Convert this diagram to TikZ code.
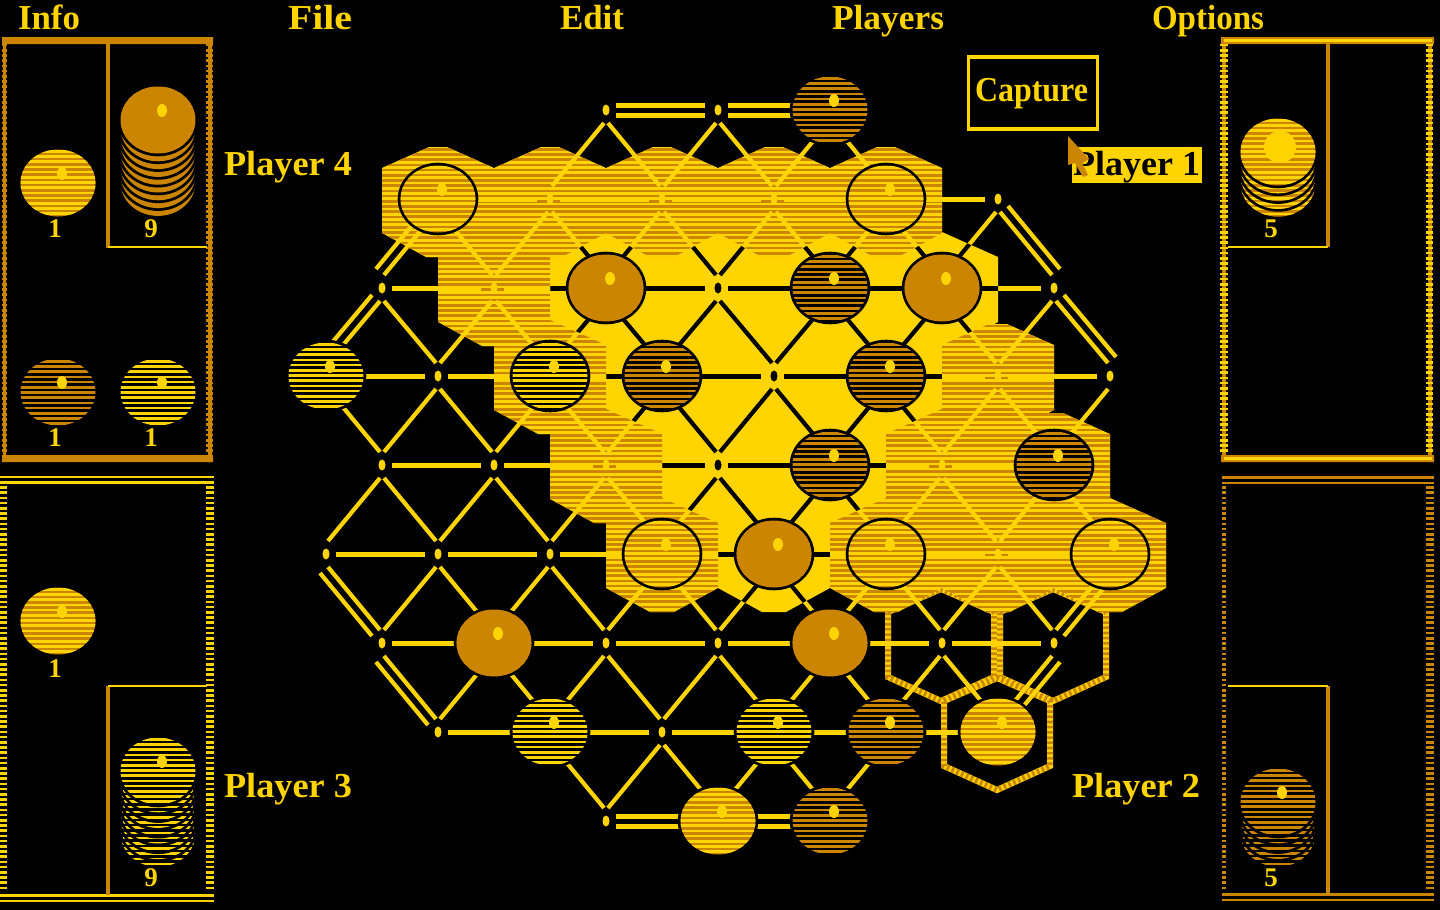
\documentclass[tikz,border=0pt]{standalone}
\usepackage{fontspec}
\usepackage{graphicx}
\newfontfamily\dosfont{Liberation Serif}
\definecolor{dosy}{HTML}{FFD400}
\definecolor{doso}{HTML}{CC8500}
\newcommand\maintext{\dosfont\bfseries\fontsize{35}{35}\selectfont}
\newcommand\digittext{\dosfont\bfseries\fontsize{27}{27}\selectfont}
\newcommand\fitw[2]{\resizebox{#1pt}{\height}{#2}}
% hexagon paths: flat-topped outer hexes, and inner hexes whose top closes the gaps of the tiling
\def\hx#1#2{({#1-56},{#2-31}) -- ({#1-9},{#2-52}) -- ({#1+9},{#2-52}) -- ({#1+56},{#2-31}) -- ({#1+56},{#2+34}) -- ({#1+12},{#2+58}) -- ({#1-12},{#2+58}) -- ({#1-56},{#2+34}) -- cycle }
\def\hy#1#2{({#1-56},{#2-31}) -- ({#1},{#2-56}) -- ({#1+56},{#2-31}) -- ({#1+56},{#2+34}) -- ({#1+12},{#2+58}) -- ({#1-12},{#2+58}) -- ({#1-56},{#2+34}) -- cycle }
\def\hxo#1#2{({#1-53},{#2-31}) -- ({#1},{#2-54}) -- ({#1+53},{#2-31}) -- ({#1+53},{#2+34}) -- ({#1},{#2+58}) -- ({#1-53},{#2+34}) -- cycle }
\def\solidhexes{\hy{606}{288}\hy{718}{288}\hy{830}{288}\hy{942}{288}\hy{662}{376}\hy{774}{376}\hy{886}{376}\hy{718}{465}\hy{830}{465}\hy{774}{554}}
\def\stripehexes{\hx{438}{199}\hx{550}{199}\hx{662}{199}\hx{774}{199}\hx{886}{199}\hy{494}{288}\hy{550}{376}\hx{998}{376}\hy{606}{465}\hy{942}{465}\hx{1054}{465}\hy{662}{554}\hy{886}{554}\hy{998}{554}\hy{1110}{554}}
% diagonal edges
\newcommand\DL[2]{\pgfmathtruncatemacro\rn{#1+1}\foreach \x in {#2}{\pgfmathtruncatemacro\xn{\x-56}\draw[dedge] ([shift={(-2,13)}]r#1-\x) -- ([shift={(2,-13)}]r\rn-\xn);}}
\newcommand\DR[2]{\pgfmathtruncatemacro\rn{#1+1}\foreach \x in {#2}{\pgfmathtruncatemacro\xn{\x+56}\draw[dedge] ([shift={(2,13)}]r#1-\x) -- ([shift={(-2,-13)}]r\rn-\xn);}}
% doubled side edges: from, to, side sign of travel, outward offset
\newcommand\DBL[5]{\draw[dedge] ([shift={(#3*2,13)}]#1) -- ([shift={(-#3*2,-13)}]#2);
  \draw[dedge] ([shift={(#3*2+#4,13+#5)}]#1) -- ([shift={(-#3*2+#4,-13+#5)}]#2);}
\newcommand\gridlayer[1]{\begin{scope}[dedge/.style={draw=#1,line width=4.2pt},hedge/.style={draw=#1,line width=5pt}]
  \foreach \r/\s/\e in {1/438/886,2/382/942,3/326/998,4/382/942,5/326/998,6/382/942,7/438/886}{
    \pgfmathtruncatemacro\ss{\s+112}
    \foreach \x in {\s,\ss,...,\e}{\pgfmathtruncatemacro\xn{\x+112}
      \draw[hedge] ([xshift=10pt]r\r-\x) -- ([xshift=-13pt]r\r-\xn);}}
  \foreach \r in {0,8}{\foreach \x/\xn in {606/718,718/830}{
      \draw[hedge] ([shift={(10,-5)}]r\r-\x) -- ([shift={(-13,-5)}]r\r-\xn);
      \draw[hedge] ([shift={(10,5)}]r\r-\x) -- ([shift={(-13,5)}]r\r-\xn);}}
  \DL{0}{606,718,830}\DR{0}{606,718,830}
  \DL{1}{550,662,774,886,998}\DR{1}{438,550,662,774,886}
  \DL{2}{494,606,718,830,942,1054}\DR{2}{382,494,606,718,830,942}
  \DL{3}{438,550,662,774,886,998,1110}\DR{3}{326,438,550,662,774,886,998}
  \DL{4}{382,494,606,718,830,942,1054}\DR{4}{382,494,606,718,830,942,1054}
  \DL{5}{438,550,662,774,886,998}\DR{5}{438,550,662,774,886,998}
  \DL{6}{494,606,718,830,942}\DR{6}{494,606,718,830,942}
  \DL{7}{662,774,886}\DR{7}{550,662,774}
  \DBL{r1-438}{r2-382}{-1}{-8}{-6}
  \DBL{r2-382}{r3-326}{-1}{-8}{-6}
  \DBL{r1-998}{r2-1054}{1}{8}{-6}
  \DBL{r2-1054}{r3-1110}{1}{8}{-6}
  \DBL{r5-326}{r6-382}{1}{-8}{6}
  \DBL{r6-382}{r7-438}{1}{-8}{6}
  \DBL{r5-1110}{r6-1054}{-1}{8}{6}
  \DBL{r6-1054}{r7-998}{-1}{8}{6}
  \foreach \r/\s/\e in {0/606/830,1/438/998,2/382/1054,3/326/1110,4/382/1054,5/326/1110,6/382/1054,7/438/998,8/606/830}{
    \pgfmathtruncatemacro\ss{\s+112}
    \foreach \x in {\s,\ss,...,\e}{\fill[#1] (r\r-\x) ellipse [x radius=3.5pt,y radius=5.5pt];}}
\end{scope}}
% playing piece: cx, cy, fill, stripe, first stripe y, stripe count
\newcommand\piece[6]{\fill[black] (#1,#2) ellipse [x radius=40.3pt,y radius=36.3pt];
  \begin{scope}\clip (#1,#2) ellipse [x radius=37.5pt,y radius=33.5pt];
    \fill[#3] (#1-40,#2-40) rectangle (#1+40,#2+40);
    \foreach \k in {0,...,#6}{\draw[#4,line width=2.6pt] ({#1-40},{#5+5.2*\k}) -- ({#1+40},{#5+5.2*\k});}
  \end{scope}}
\newcommand\pdot[2]{\fill[dosy] ({#1+4},{#2-9.5}) ellipse [x radius=5pt,y radius=6.5pt];}
\newcommand\boardpiece[4]{\piece{#1}{#2}{#3}{#4}{#2-31.7}{13}\pdot{#1}{#2}}
\newcommand\stack[6]{% cx, cy, fill, stripe, levels, count
  \foreach \j in {#5,...,0}{\piece{#1}{#2+7.8*\j}{#3}{#4}{#2-31.7}{#6}}}
% horizontal teeth of a panel border
\newcommand\teeth[5]{\foreach \k in {0,...,200}{\pgfmathsetmacro\yy{#3+5.2*\k}
   \pgfmathparse{\yy<#4?1:0}\ifnum\pgfmathresult=1 \draw[#5,line width=2.6pt] (#1,\yy) -- (#2,\yy);\fi}}
\begin{document}
\begin{tikzpicture}[x=1pt,y=-1pt,
  lbl/.style={anchor=base west,inner sep=0pt,outer sep=0pt,text=dosy,font=\maintext},
  digit/.style={anchor=base,inner sep=0pt,outer sep=0pt,text=dosy,font=\digittext},
  hilite/.style={draw=dosy,line width=6pt,line join=miter},
  hilitedash/.style={draw=doso,line width=6pt,dash pattern=on 2.6pt off 2.6pt}]
\fill[black] (0,0) rectangle (1440,910);
\useasboundingbox (0,0) rectangle (1440,910);
% lattice points
\foreach \r/\y/\s/\e in {0/110/606/830,1/199/438/998,2/288/382/1054,3/376/326/1110,4/465/382/1054,5/554/326/1110,6/643/382/1054,7/732/438/998,8/821/606/830}{
  \pgfmathtruncatemacro\ss{\s+112}
  \foreach \x in {\s,\ss,...,\e}{\coordinate (r\r-\x) at (\x,\y);}}
% highlighted hexes
\foreach \a/\b in {941/643,1053/643,997/732}{
  \draw[hilite] \hxo{\a}{\b};
  \draw[hilitedash] \hxo{\a}{\b};}
\gridlayer{dosy}
% solid territory
\fill[dosy] \solidhexes;
\begin{scope}\clip \solidhexes; \gridlayer{black}\end{scope}
% striped territory
\fill[dosy] \stripehexes;
\begin{scope}\clip \stripehexes;
  \foreach \k in {0,...,92}{\draw[doso,line width=2.6pt] (370,{149.2+5.2*\k}) -- (1175,{149.2+5.2*\k});}
  \gridlayer{dosy}
\end{scope}
% board pieces
\foreach \a/\b in {830/110,830/288,662/376,886/376,830/465,1054/465,886/732,830/821}{\boardpiece{\a}{\b}{black}{doso}}
\foreach \a/\b in {606/288,942/288,774/554,494/643,830/643}{\boardpiece{\a}{\b}{doso}{doso}}
\foreach \a/\b in {326/376,550/376,550/732,774/732}{\boardpiece{\a}{\b}{black}{dosy}}
\foreach \a/\b in {998/732,718/821,438/199,886/199,662/554,886/554,1110/554}{\boardpiece{\a}{\b}{doso}{dosy}}
% Player 4 panel
\teeth{2}{7}{45}{455}{doso}
\teeth{206}{213}{45}{455}{doso}
\fill[doso] (3,37) rectangle (6,462) (208,37) rectangle (212,462);
\fill[doso] (2,37) rectangle (213,44) (2,455) rectangle (213,462);
\fill[doso] (106,44) rectangle (110,248);
\draw[dosy,line width=2pt] (108,247) -- (207,247);
% Player 3 panel
\teeth{0}{7}{487.5}{893}{dosy}
\teeth{206}{214}{487.5}{893}{dosy}
\foreach \yy in {477,482.4,895.7,900.9}{\draw[dosy,line width=2.6pt] (0,\yy) -- (214,\yy);}
\fill[doso] (106,686) rectangle (110,894.5);
\draw[dosy,line width=2pt] (108,686) -- (207,686);
% Player 1 panel
\fill[doso] (1222,37) rectangle (1226,462) (1428,37) rectangle (1432,462);
\teeth{1220}{1228}{45}{455}{dosy}
\teeth{1426}{1433}{45}{455}{dosy}
\fill[doso] (1221,37) rectangle (1434,44) (1221,455) rectangle (1434,462);
\fill[dosy] (1224,39) rectangle (1432,42) (1224,457) rectangle (1432,460);
\fill[doso] (1326,44) rectangle (1330,247);
\draw[dosy,line width=2pt] (1228,247) -- (1328,247);
% Player 2 panel
\teeth{1222}{1226}{487.5}{892}{doso}
\teeth{1426}{1434}{487.5}{892}{doso}
\foreach \yy in {477.5,482.8,894.5,900}{\draw[doso,line width=2.6pt] (1222,\yy) -- (1434,\yy);}
\fill[doso] (1326,686) rectangle (1330,893);
\draw[dosy,line width=2pt] (1228,686) -- (1328,686);
% panel pieces
\stack{158}{120}{doso}{doso}{8}{2}\pdot{158}{120}
\piece{58}{183}{doso}{dosy}{151.3}{13}\pdot{58}{183}
\piece{58}{392}{black}{doso}{361.3}{13}\pdot{58}{392}
\piece{158}{392}{black}{dosy}{361.3}{13}\pdot{158}{392}
\piece{58}{621}{doso}{dosy}{589.3}{13}\pdot{58}{621}
\stack{158}{771}{black}{dosy}{8}{26}\pdot{158}{771}
\stack{1278}{152}{doso}{dosy}{4}{20}
\fill[dosy] (1280,147) ellipse [x radius=16pt,y radius=16pt];
\stack{1278}{802}{black}{doso}{4}{20}\pdot{1278}{802}
% counts
\node[digit] (c4a) at (55,237) {1};
\node[digit] (c4b) at (151,237) {9};
\node[digit] (c4c) at (55,446.5) {1};
\node[digit] (c4d) at (151,446.5) {1};
\node[digit] (c3a) at (55,677) {1};
\node[digit] (c3b) at (151,886) {9};
\node[digit] (c1a) at (1271,237) {5};
\node[digit] (c2a) at (1271,886) {5};
% menu
\node[lbl] (minfo) at (18,29) {\fitw{62}{Info}};
\node[lbl] (mfile) at (288,29) {\fitw{64}{File}};
\node[lbl] (medit) at (560,29) {\fitw{64}{Edit}};
\node[lbl] (mplayers) at (832,29) {\fitw{112}{Players}};
\node[lbl] (moptions) at (1152,29) {\fitw{112}{Options}};
% player names
\node[lbl] (p4) at (224,175) {\fitw{128}{Player 4}};
\node[lbl] (p3) at (224,797) {\fitw{128}{Player 3}};
\node[lbl] (p2) at (1072,797) {\fitw{128}{Player 2}};
% capture button
\node[draw=dosy,line width=3.5pt,minimum width=129pt,minimum height=72pt,inner sep=0pt] (capture) at (1033,93) {};
\node[lbl] (capturetext) at (975,101) {\fitw{113}{Capture}};
% current player
\fill[dosy] (1072,146.5) rectangle (1201.5,182.5);
\node[lbl,text=black] (p1) at (1073,175) {\fitw{127}{Player 1}};
\fill[doso] (1068,136) -- (1068,165) -- (1075,163) -- (1083,177) -- (1088,175) -- (1082,163) -- (1089,159) -- cycle;
\end{tikzpicture}
\end{document}
